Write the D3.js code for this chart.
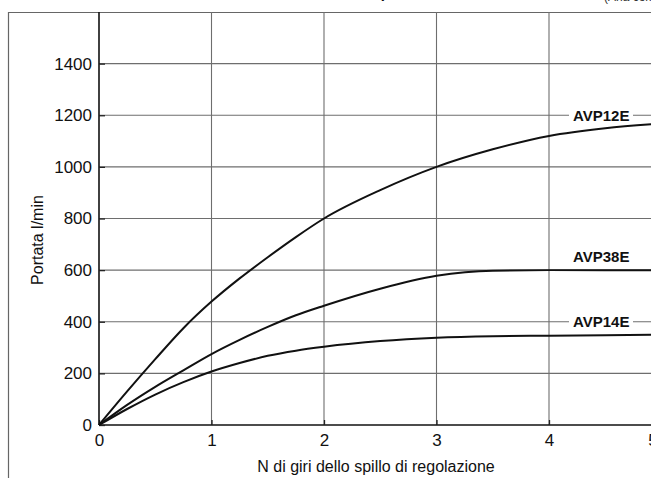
<!DOCTYPE html>
<html>
<head>
<meta charset="utf-8">
<script src="https://cdn.jsdelivr.net/npm/d3@7"></script>
<style>
  body { margin: 0; background: #fff; }
  svg { display: block; font-family: "Liberation Sans", Arial, sans-serif; }
</style>
</head>
<body>
<div id="chart"></div>
<script>
// data (turns of the needle -> flow l/min)
const turns = [0, 0.25, 0.5, 0.75, 1, 1.25, 1.5, 1.75, 2, 2.5, 3, 3.5, 4, 4.5, 5];
const avp12e = [0, 130, 255, 375, 478, 568, 650, 728, 800, 910, 1000, 1068, 1120, 1150, 1168];
const avp38e = [0, 78, 148, 212, 275, 330, 380, 425, 462, 528, 578, 598, 600, 600, 600];
const avp14e = [0, 62, 118, 166, 207, 240, 268, 288, 303, 325, 338, 344, 346, 348, 350];
const seriesNames = ['AVP12E', 'AVP38E', 'AVP14E'];
const xTicks = [0, 1, 2, 3, 4, 5];
const yTicks = [0, 200, 400, 600, 800, 1000, 1200, 1400];

const W = 651, H = 478;
const margin = {top: 12, right: -10.5, bottom: 53, left: 99};

const svg = d3.select('#chart').append('svg')
    .attr('width', W).attr('height', H);

const x = d3.scaleLinear().domain([0, 5]).range([margin.left, W - margin.right]);
const y = d3.scaleLinear().domain([0, 1600]).range([H - margin.bottom, margin.top]);

// outer frame (left + top)
svg.append('path')
    .attr('d', `M8.5,${H} V12.5 H${W}`)
    .attr('fill', 'none').attr('stroke', '#666').attr('stroke-width', 1.2);

// grid
const grid = svg.append('g').attr('stroke', '#6e6e6e').attr('stroke-width', 1.1);
grid.selectAll('.gx').data(xTicks.slice(1)).enter().append('line')
    .attr('x1', d => x(d)).attr('x2', d => x(d))
    .attr('y1', y(0)).attr('y2', margin.top);
grid.selectAll('.gy').data(yTicks.slice(1)).enter().append('line')
    .attr('x1', x(0)).attr('x2', W)
    .attr('y1', d => y(d)).attr('y2', d => y(d));

// axes
const xAxis = svg.append('g')
    .attr('transform', `translate(0,${y(0)})`)
    .call(d3.axisBottom(x).tickValues(xTicks).tickFormat(d3.format('d'))
        .tickSizeInner(-5).tickSizeOuter(0).tickPadding(9));
const yAxis = svg.append('g')
    .attr('transform', `translate(${x(0)},0)`)
    .call(d3.axisLeft(y).tickValues(yTicks).tickFormat(d3.format('d'))
        .tickSizeInner(-6).tickSizeOuter(0).tickPadding(7));

[xAxis, yAxis].forEach(a => {
  a.select('.domain').attr('stroke', '#111').attr('stroke-width', 1.6);
  a.selectAll('.tick line').attr('stroke', '#222').attr('stroke-width', 1.3);
  a.selectAll('.tick text').attr('fill', '#111')
      .style('font-size', '17px').style('font-family', '"Liberation Sans", Arial, sans-serif');
});
yAxis.select('.domain').attr('d', `M0,${y(0)}V${margin.top}`);
xAxis.select('.domain').attr('d', `M${x(0)},0H${W}`);
// the "5" sits on the cut edge of the scan
xAxis.selectAll('.tick').filter(d => d === 5).select('text').attr('x', -9);

// curves
const line = d3.line().x(d => x(d[0])).y(d => y(d[1])).curve(d3.curveMonotoneX);
const series = [avp12e, avp38e, avp14e].map((vals, i) => ({
  name: seriesNames[i],
  values: turns.map((t, j) => [t, vals[j]])
}));
svg.selectAll('.curve').data(series).enter().append('path')
    .attr('class', 'curve')
    .attr('d', d => line(d.values))
    .attr('fill', 'none').attr('stroke', '#111').attr('stroke-width', 2);

// series labels
const labelY = {AVP12E: y(1200), AVP38E: y(600) - 14, AVP14E: y(400)};
const lab = svg.selectAll('.lab').data(seriesNames).enter().append('g').attr('class', 'lab');
lab.append('rect')
    .attr('x', 569).attr('y', d => labelY[d] - 8)
    .attr('width', 64).attr('height', 16)
    .attr('fill', '#fff');
lab.append('text')
    .attr('x', 573).attr('y', d => labelY[d])
    .attr('dy', '0.36em')
    .style('font-size', '15px').style('font-weight', 'bold')
    .attr('fill', '#111')
    .text(d => d);

// axis titles
svg.append('text')
    .attr('x', 376).attr('y', 472)
    .attr('text-anchor', 'middle')
    .style('font-size', '16px').attr('fill', '#111')
    .text('N di giri dello spillo di regolazione');
svg.append('text')
    .attr('transform', 'translate(43,240) rotate(-90)')
    .attr('text-anchor', 'middle')
    .style('font-size', '16px').attr('fill', '#111')
    .text('Portata l/min');

// title, cut off at the top edge of the scan
svg.append('text')
    .attr('x', 387 - 133).attr('y', -2)
    .style('font-size', '15px').style('font-weight', 'bold').attr('fill', '#111')
    .text('Caratteristiche di portata');
svg.append('text')
    .attr('x', 604).attr('y', 1)
    .style('font-size', '12px').attr('fill', '#333')
    .text('(Aria compressa)');
</script>
</body>
</html>
